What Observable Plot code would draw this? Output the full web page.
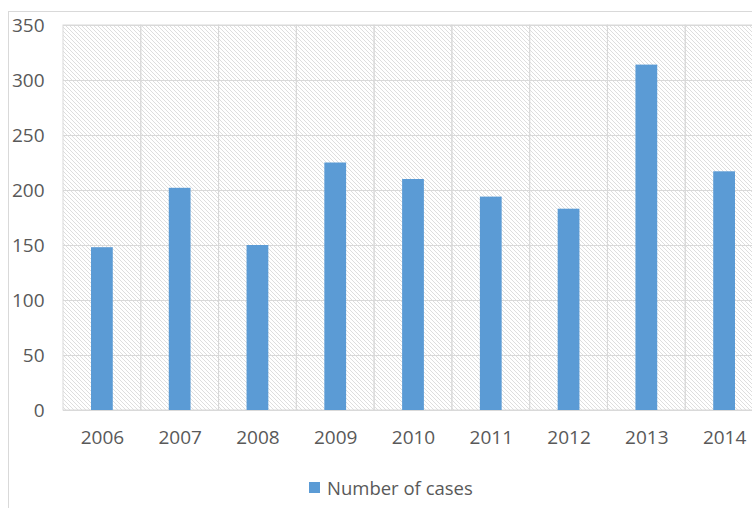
<!DOCTYPE html>
<html><head><meta charset="utf-8">
<script src="https://cdn.jsdelivr.net/npm/d3@7"></script>
<script src="https://cdn.jsdelivr.net/npm/@observablehq/plot@0.6"></script>
<style>
html,body{margin:0;padding:0;background:#fff;overflow:hidden;width:752px;height:508px;}
#wrap{position:relative;width:752px;height:508px;font-family:"Open Sans",sans-serif;}
#frame{position:absolute;left:8px;top:11px;width:800px;height:600px;border-left:1px solid #d9d9d9;border-top:1px solid #d9d9d9;pointer-events:none;}
#legend{height:38px;display:flex;align-items:center;padding-left:309px;font-size:18.5px;color:#595959;}
#legend .sw{width:11px;height:11px;background:#5B9BD5;margin-right:7px;}
</style>
</head><body>
<div id="wrap"><div id="chart"></div>
<div id="legend"><span class="sw"></span><span>Number of cases</span></div>
<div id="frame"></div></div>
<script>
const years = ["2006","2007","2008","2009","2010","2011","2012","2013","2014"];
const cases = [148, 202, 150, 225, 210, 194, 183, 314, 217];
const yTicks = [0, 50, 100, 150, 200, 250, 300, 350];
const yMax = 350;
const seriesName = "Number of cases";

const data = years.map((y, i) => ({year: y, value: cases[i]}));

const svg = Plot.plot({
  width: 752, height: 468,
  marginTop: 25, marginBottom: 58, marginLeft: 63, marginRight: -11,
  style: {background: "transparent", fontFamily: "'Open Sans', sans-serif", fontSize: "19px", color: "#595959", overflow: "visible"},
  x: {domain: years, padding: 0, round: false, label: null},
  y: {domain: [0, yMax], label: null},
  marks: [
    Plot.barY(years, {x: d => d, y1: 0, y2: yMax, fill: "url(#hatch)"}),
    Plot.gridY(yTicks, {stroke: "#d9d9d9", strokeOpacity: 1, strokeWidth: 1}),
    Plot.barY(years, {x: d => d, y1: 0, y2: yMax, fill: "none", stroke: "#d9d9d9", strokeWidth: 1}),
    Plot.barY(data, {x: "year", y: "value", fill: "#5B9BD5", insetLeft: 28, insetRight: 28}),
    Plot.axisY(yTicks, {tickSize: 0, tickPadding: 19, fill: "#595959", fontSize: 19}),
    Plot.axisX(years, {tickSize: 0, tickPadding: 20, fill: "#595959", fontSize: 19})
  ]
});

const ns = "http://www.w3.org/2000/svg";
const defs = document.createElementNS(ns, "defs");
const pat = document.createElementNS(ns, "pattern");
pat.setAttribute("id", "hatch");
pat.setAttribute("patternUnits", "userSpaceOnUse");
pat.setAttribute("width", "4");
pat.setAttribute("height", "4");
const bg = document.createElementNS(ns, "rect");
bg.setAttribute("width", "4"); bg.setAttribute("height", "4"); bg.setAttribute("fill", "#ffffff");
const p = document.createElementNS(ns, "path");
p.setAttribute("d", "M-1,-1L5,5M-1,3L1,5M3,-1L5,1");
p.setAttribute("stroke", "#dadada");
p.setAttribute("stroke-width", "0.9");
pat.appendChild(bg); pat.appendChild(p); defs.appendChild(pat);
svg.insertBefore(defs, svg.firstChild);
document.getElementById("chart").appendChild(svg);
</script>
</body></html>
